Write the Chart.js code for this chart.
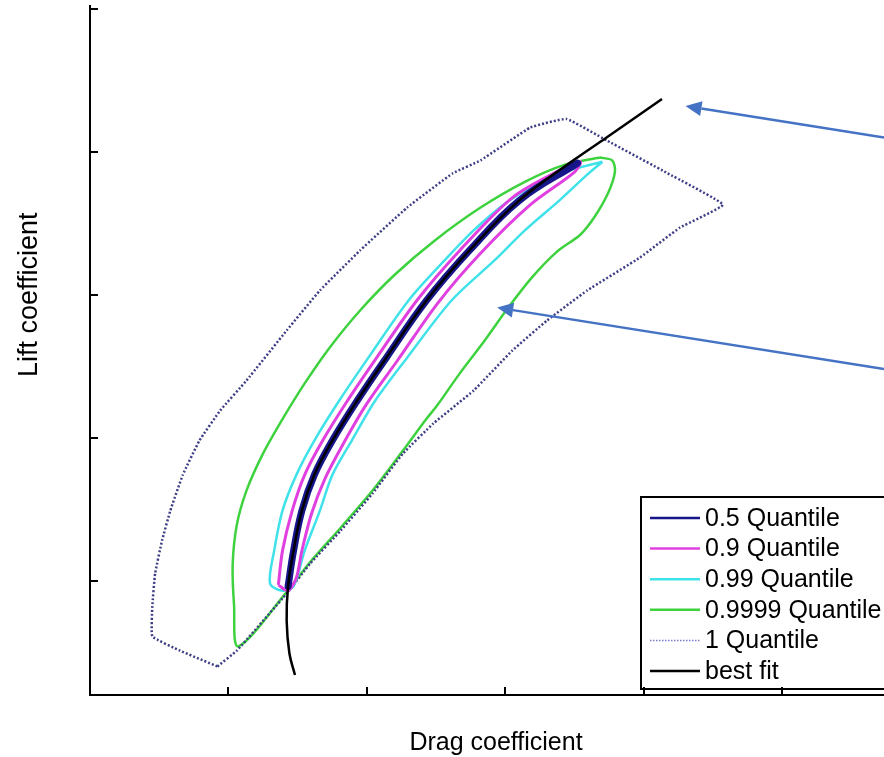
<!DOCTYPE html>
<html lang="en">
<head>
<meta charset="UTF-8">
<title>Lift vs drag coefficient quantiles</title>
<script src="https://cdn.jsdelivr.net/npm/chart.js"></script>
<style>
  html, body { margin: 0; padding: 0; background: #fff; }
  #wrap { width: 884px; height: 757px; }
</style>
</head>
<body>
<div id="wrap"><canvas id="myChart"></canvas></div>

<script>
    // axis units: one tick step = 1 (no tick labels on the original)
    const xTicks = [1, 2, 3, 4, 5];
    const yTicks = [0.8, 1.8, 2.8, 3.8, 4.8];

    // best fit curve
    const fitX = [4.13, 3.73, 3.49, 3.10, 2.74, 2.43, 2.14, 1.93, 1.75, 1.62, 1.53, 1.47, 1.43, 1.42, 1.44, 1.48];
    const fitY = [4.17, 3.90, 3.74, 3.46, 3.11, 2.76, 2.36, 2.06, 1.78, 1.54, 1.29, 1.01, 0.76, 0.52, 0.29, 0.14];

    // 0.5 quantile (thin band along the fit)
    const q05X = [3.52, 3.10, 2.74, 2.43, 2.14, 1.93, 1.75, 1.62, 1.53, 1.47, 1.43];
    const q05Y = [3.72, 3.46, 3.11, 2.76, 2.36, 2.06, 1.78, 1.54, 1.29, 1.01, 0.76];

    // 0.9 quantile contour
    const q09X = [1.36, 1.39, 1.46, 1.55, 1.68, 1.86, 2.07, 2.36, 2.67, 3.05, 3.39, 3.54, 3.50, 3.18, 2.82, 2.51, 2.22, 2.00, 1.83, 1.70, 1.60, 1.53, 1.49, 1.43, 1.36];
    const q09Y = [0.77, 1.01, 1.29, 1.54, 1.78, 2.06, 2.36, 2.76, 3.11, 3.48, 3.67, 3.73, 3.66, 3.43, 3.09, 2.74, 2.34, 2.04, 1.76, 1.52, 1.27, 1.01, 0.82, 0.73, 0.77];

    // 0.99 quantile contour
    const q099X = [3.70, 3.36, 3.03, 2.77, 2.56, 2.30, 2.01, 1.80, 1.62, 1.49, 1.39, 1.33, 1.30, 1.39,
                   1.47, 1.55, 1.66, 1.75, 1.89, 2.06, 2.29, 2.61, 2.92, 3.14, 3.39, 3.59, 3.70];
    const q099Y = [3.73, 3.64, 3.46, 3.25, 3.04, 2.76, 2.36, 2.06, 1.78, 1.54, 1.29, 1.01, 0.78, 0.73,
                   0.76, 1.01, 1.29, 1.54, 1.78, 2.06, 2.36, 2.76, 3.04, 3.25, 3.46, 3.64, 3.73];

    // 0.9999 quantile contour
    const q9999X = [3.68, 3.77, 3.79, 3.74, 3.64, 3.54, 3.37, 3.19, 3.02, 2.85, 2.67, 2.51, 2.42, 2.26, 2.04, 1.81, 1.59, 1.42, 1.07,
                    1.04, 1.03, 1.06, 1.13, 1.25, 1.39, 1.55, 1.73, 1.95, 2.20, 2.49, 2.82, 3.14, 3.43, 3.68];
    const q9999Y = [3.76, 3.74, 3.66, 3.51, 3.34, 3.22, 3.10, 2.92, 2.71, 2.48, 2.25, 2.03, 1.92, 1.71, 1.43, 1.17, 0.93, 0.72, 0.34,
                    0.63, 0.91, 1.19, 1.43, 1.69, 1.93, 2.18, 2.43, 2.69, 2.94, 3.18, 3.41, 3.59, 3.71, 3.76];

    // 1 quantile (outer hull)
    const q1X = [0.92, 1.06, 1.42, 1.59, 1.81, 2.04, 2.26, 2.48, 2.77, 3.05, 3.30, 3.59, 3.97, 4.26, 4.57, 4.17, 3.73, 3.44, 3.18,
                 2.82, 2.62, 2.29, 1.95, 1.66, 1.42, 1.13, 0.94, 0.79, 0.67, 0.58, 0.52, 0.47, 0.45, 0.45, 0.65, 0.92];
    const q1Y = [0.20, 0.31, 0.71, 0.92, 1.15, 1.41, 1.69, 1.90, 2.13, 2.41, 2.62, 2.83, 3.06, 3.27, 3.43, 3.65, 3.88, 4.03, 3.97,
                 3.74, 3.65, 3.41, 3.11, 2.83, 2.55, 2.20, 1.99, 1.78, 1.54, 1.29, 1.08, 0.85, 0.62, 0.41, 0.31, 0.20];

    // annotation arrows: tail at the right edge, tip on the curves
    const arrowTailX = [5.733, 5.733];
    const arrowTailY = [3.90, 2.28];
    const arrowTipX = [4.30, 2.94];
    const arrowTipY = [4.12, 2.71];

    const legendLabels = ['0.5 Quantile', '0.9 Quantile', '0.99 Quantile', '0.9999 Quantile', '1 Quantile', 'best fit'];
    const legendColors = ['#16168a', '#e040e0', '#40e2ea', '#3ed23e', '#7a7ad0', '#000000'];

    const FONT = '"Liberation Sans", Arial, Helvetica, sans-serif';

    function pts(xs, ys) {
        return xs.map(function (v, i) { return {x: v, y: ys[i]}; });
    }

    const decorations = {
        id: 'decorations',
        afterDatasetsDraw(chart) {
            const ctx = chart.ctx;
            const xs = chart.scales.x, ys = chart.scales.y;
            const area = chart.chartArea;

            // arrows
            ctx.save();
            ctx.strokeStyle = '#4472c4';
            ctx.fillStyle = '#4472c4';
            ctx.lineWidth = 2.5;
            for (let i = 0; i < arrowTipX.length; i++) {
                const x0 = xs.getPixelForValue(arrowTailX[i]), y0 = ys.getPixelForValue(arrowTailY[i]);
                const x1 = xs.getPixelForValue(arrowTipX[i]), y1 = ys.getPixelForValue(arrowTipY[i]);
                const a = Math.atan2(y1 - y0, x1 - x0);
                const hl = 16, hw = 7.5;
                const bx = x1 - hl * Math.cos(a), by = y1 - hl * Math.sin(a);
                ctx.beginPath();
                ctx.moveTo(x0, y0);
                ctx.lineTo(bx, by);
                ctx.stroke();
                ctx.beginPath();
                ctx.moveTo(x1, y1);
                ctx.lineTo(bx + hw * Math.sin(a), by - hw * Math.cos(a));
                ctx.lineTo(bx - hw * Math.sin(a), by + hw * Math.cos(a));
                ctx.closePath();
                ctx.fill();
            }
            ctx.restore();

            // legend box, bottom right inside the axes
            const lx = area.right - 243, lb = area.bottom - 6, lt = lb - 192;
            ctx.save();
            ctx.fillStyle = '#fff';
            ctx.fillRect(lx, lt, 260, lb - lt);
            ctx.strokeStyle = '#000';
            ctx.lineWidth = 2;
            ctx.strokeRect(lx, lt, 260, lb - lt);
            ctx.font = '25px ' + FONT;
            ctx.textBaseline = 'middle';
            ctx.fillStyle = '#000';
            for (let i = 0; i < legendLabels.length; i++) {
                const ry = lt + 21 + i * 30.6;
                ctx.beginPath();
                ctx.strokeStyle = legendColors[i];
                ctx.lineWidth = i === 4 ? 1.5 : 2.5;
                ctx.setLineDash(i === 4 ? [1.5, 1.5] : []);
                ctx.moveTo(lx + 9, ry);
                ctx.lineTo(lx + 59, ry);
                ctx.stroke();
                ctx.setLineDash([]);
                ctx.fillText(legendLabels[i], lx + 64, ry + 1);
            }
            ctx.restore();
        },
        afterDraw(chart) {
            const ctx = chart.ctx;
            const xs = chart.scales.x, ys = chart.scales.y;
            const area = chart.chartArea;
            ctx.save();
            // inward tick marks
            ctx.strokeStyle = '#000';
            ctx.lineWidth = 2;
            ctx.beginPath();
            xTicks.forEach(function (v) {
                const px = Math.round(xs.getPixelForValue(v));
                ctx.moveTo(px, area.bottom);
                ctx.lineTo(px, area.bottom - 8);
            });
            yTicks.forEach(function (v) {
                const py = Math.round(ys.getPixelForValue(v));
                ctx.moveTo(area.left, py);
                ctx.lineTo(area.left + 8, py);
            });
            ctx.stroke();

            // axis titles
            ctx.fillStyle = '#000';
            ctx.font = '25px ' + FONT;
            ctx.textAlign = 'center';
            ctx.textBaseline = 'middle';
            ctx.fillText('Drag coefficient', (area.left + area.right) / 2 + 9, 743);
            ctx.translate(30, ys.getPixelForValue(2.8));
            ctx.rotate(-Math.PI / 2);
            ctx.font = '27px ' + FONT;
            ctx.fillText('Lift coefficient', 0, 0);
            ctx.restore();
        }
    };

    function line(label, xs, ys, color, width, extra) {
        return Object.assign({
            label: label,
            data: pts(xs, ys),
            showLine: true,
            borderColor: color,
            backgroundColor: color,
            borderWidth: width,
            pointRadius: 0,
            fill: false,
            tension: 0.3
        }, extra || {});
    }

    const ctx = document.getElementById('myChart').getContext('2d');
    const myChart = new Chart(ctx, {
        type: 'scatter',
        data: {
            datasets: [
                line('0.5 Quantile', q05X, q05Y, '#16168a', 7, {order: 1, tension: 0.4, borderCapStyle: 'round'}),
                line('0.9 Quantile', q09X, q09Y, '#e040e0', 3, {order: 2}),
                line('0.99 Quantile', q099X, q099Y, '#40e2ea', 2.5, {order: 3}),
                line('0.9999 Quantile', q9999X, q9999Y, '#3ed23e', 2.5, {order: 5}),
                line('1 Quantile', q1X, q1Y, '#3e3e86', 2.5, {order: 4, tension: 0.1, borderDash: [2, 2]}),
                line('best fit', fitX, fitY, '#000000', 2.5, {order: 0, tension: 0.4})
            ]
        },
        options: {
            responsive: true,
            maintainAspectRatio: false,
            animation: false,
            devicePixelRatio: 1,
            layout: {padding: {top: 6, right: 0, bottom: 0, left: 0}},
            plugins: {
                legend: {display: false},
                tooltip: {enabled: false}
            },
            scales: {
                x: {
                    type: 'linear',
                    min: 0,
                    max: 5.733,
                    afterBuildTicks: function (s) { s.ticks = xTicks.map(function (v) { return {value: v}; }); },
                    afterFit: function (s) { s.height = 62; },
                    ticks: {display: false},
                    grid: {display: false, drawTicks: false},
                    border: {display: true, color: '#000', width: 2}
                },
                y: {
                    type: 'linear',
                    min: 0,
                    max: 4.82,
                    afterBuildTicks: function (s) { s.ticks = yTicks.map(function (v) { return {value: v}; }); },
                    afterFit: function (s) { s.width = 90; },
                    ticks: {display: false},
                    grid: {display: false, drawTicks: false},
                    border: {display: true, color: '#000', width: 2}
                }
            }
        },
        plugins: [decorations]
    });
</script>
</body>
</html>
